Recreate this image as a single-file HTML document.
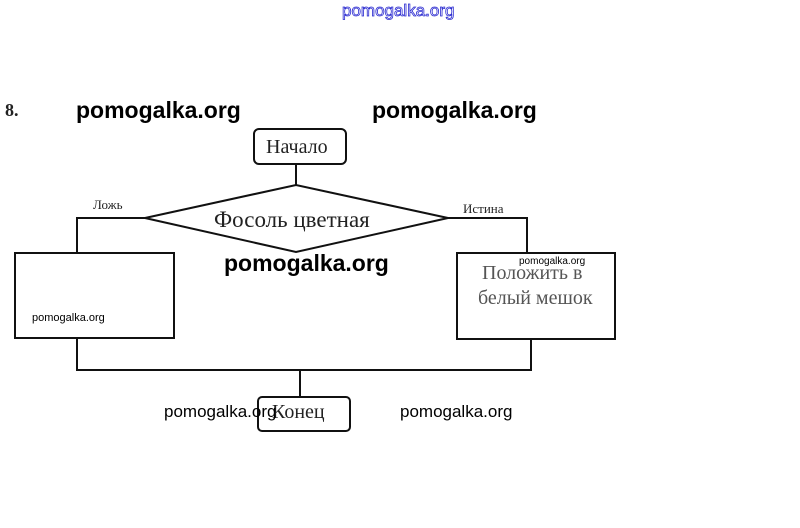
<!DOCTYPE html>
<html><head><meta charset="utf-8"><style>
body{margin:0;width:800px;height:528px;background:#fff;position:relative;overflow:hidden}
.w{position:absolute;font-family:"Liberation Sans",sans-serif;color:#000;white-space:nowrap}
.s{position:absolute;font-family:"Liberation Serif","DejaVu Serif",serif;color:#222;white-space:nowrap}
</style></head><body>
<svg width="800" height="528" style="position:absolute;left:0;top:0">
<g fill="none" stroke="#111" stroke-width="2">
<rect x="254" y="129" width="92" height="35" rx="5"/>
<line x1="296" y1="164" x2="296" y2="185"/>
<polygon points="145,218 296,185 448,218 296,252"/>
<polyline points="145,218 77,218 77,253"/>
<polyline points="448,218 527,218 527,253"/>
<rect x="15" y="253" width="159" height="85"/>
<rect x="457" y="253" width="158" height="86"/>
<polyline points="77,338 77,370 531,370 531,339"/>
<line x1="300" y1="370" x2="300" y2="397"/>
<rect x="258" y="397" width="92" height="34" rx="4"/>
</g>
</svg>
<div class="w" style="left:342px;top:1px;font-size:17px;color:#fff;-webkit-text-stroke:0.8px #2a2ad0">pomogalka.org</div>
<div class="s" style="left:5px;top:100px;font-size:18px;font-weight:bold">8.</div>
<div class="w" style="left:76px;top:97px;font-size:23px;font-weight:bold">pomogalka.org</div>
<div class="w" style="left:372px;top:97px;font-size:23px;font-weight:bold">pomogalka.org</div>
<div class="s" style="left:266px;top:136px;font-size:20px">Начало</div>
<div class="s" style="left:93px;top:197px;font-size:13px">Ложь</div>
<div class="s" style="left:463px;top:201px;font-size:13px">Истина</div>
<div class="s" style="left:214px;top:207px;font-size:23px">Фосоль цветная</div>
<div class="w" style="left:224px;top:250px;font-size:23px;font-weight:bold">pomogalka.org</div>
<div class="w" style="left:519px;top:256px;font-size:10px">pomogalka.org</div>
<div class="s" style="left:482px;top:262px;font-size:20px;color:#555">Положить в</div>
<div class="s" style="left:478px;top:287px;font-size:20px;color:#555">белый мешок</div>
<div class="w" style="left:32px;top:312px;font-size:11px">pomogalka.org</div>
<div class="s" style="left:272px;top:401px;font-size:20px">Конец</div>
<div class="w" style="left:164px;top:402px;font-size:17px">pomogalka.org</div>
<div class="w" style="left:400px;top:402px;font-size:17px">pomogalka.org</div>
</body></html>
